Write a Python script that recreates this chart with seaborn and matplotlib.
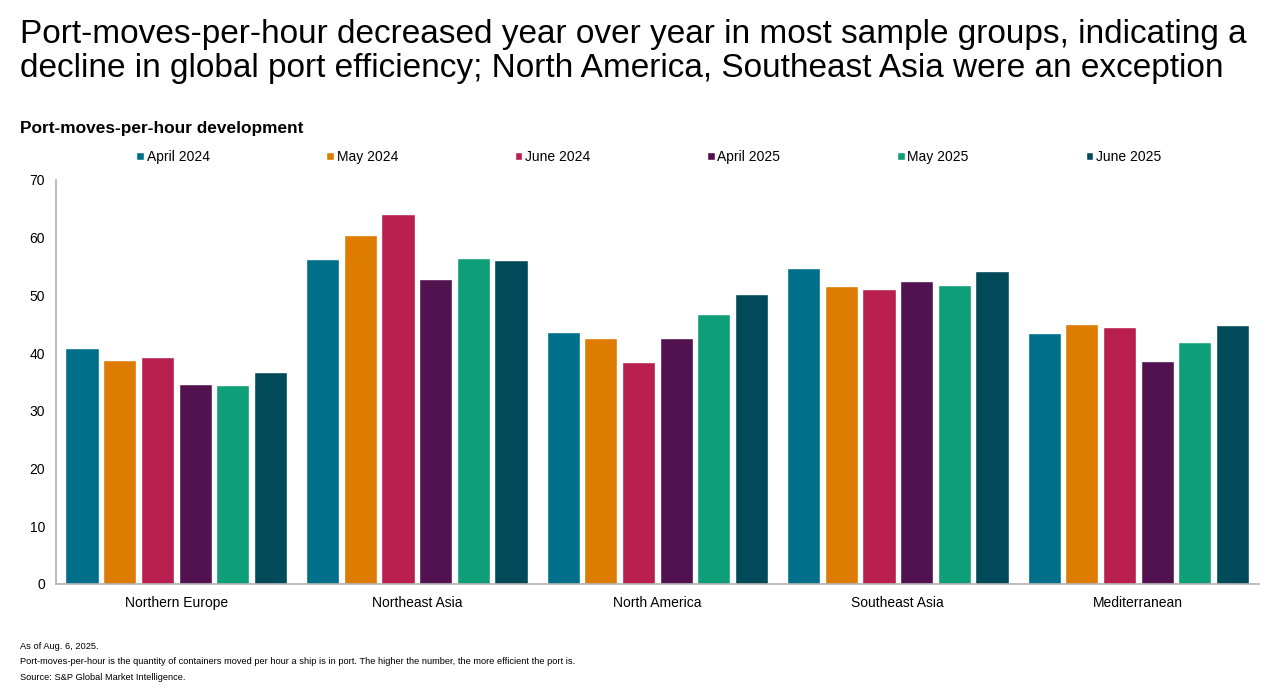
import numpy as np
import pandas as pd
import matplotlib.pyplot as plt
import seaborn as sns

# Chart data
regions = ['Northern Europe', 'Northeast Asia', 'North America', 'Southeast Asia', 'Mediterranean']
months = ['April 2024', 'May 2024', 'June 2024', 'April 2025', 'May 2025', 'June 2025']
april_2024 = [40.9, 56.3, 43.7, 54.7, 43.5]
may_2024 = [38.8, 60.5, 42.7, 51.6, 45.1]
june_2024 = [39.3, 64.1, 38.5, 51.1, 44.5]
april_2025 = [34.7, 52.8, 42.7, 52.5, 38.6]
may_2025 = [34.4, 56.5, 46.7, 51.8, 41.9]
june_2025 = [36.8, 56.1, 50.2, 54.3, 44.9]

colors = ['#006f8a', '#dd7c00', '#b81f4f', '#52124f', '#0e9e78', '#004a5a']

series = [april_2024, may_2024, june_2024, april_2025, may_2025, june_2025]
df = pd.DataFrame([
    {'region': r, 'month': m, 'value': v}
    for m, vals in zip(months, series)
    for r, v in zip(regions, vals)
])

sns.set_theme(style='white')
plt.rcParams['font.family'] = ['Liberation Sans', 'DejaVu Sans']
plt.rcParams['text.color'] = 'black'

fig = plt.figure(figsize=(12.8, 6.89), dpi=100)
ax = fig.add_axes([0.04375, 0.1524, 0.9395, 0.5864])

sns.barplot(data=df, x='region', y='value', hue='month', hue_order=months,
            order=regions, palette=colors, width=0.94, gap=0.12,
            saturation=1, ax=ax)

ax.set_ylim(0, 70)
ax.set_xlim(-0.5, 4.5)
ax.set_yticks(range(0, 71, 10))
ax.set_xlabel('')
ax.set_ylabel('')
ax.tick_params(axis='both', length=0, labelsize=10, colors='black')
ax.tick_params(axis='y', pad=8)
ax.tick_params(axis='x', pad=9)
for side in ['top', 'right']:
    ax.spines[side].set_visible(False)
for side in ['left', 'bottom']:
    ax.spines[side].set_color('#b0b0b0')
    ax.spines[side].set_linewidth(1.2)

# one row legend across the top
handles, labels = ax.get_legend_handles_labels()
ax.get_legend().remove()
fig.legend(handles, labels, ncol=6, frameon=False, fontsize=10, handlelength=0.55,
           handleheight=0.55, handletextpad=0.2, columnspacing=8.4, borderaxespad=0,
           loc='center left', bbox_to_anchor=(0.102, 0.772))

fig.text(0.016, 0.972, 'Port-moves-per-hour decreased year over year in most sample groups, indicating a\n'
         'decline in global port efficiency; North America, Southeast Asia were an exception',
         fontsize=24, va='top', ha='left', linespacing=1.13, color='black')
fig.text(0.016, 0.814, 'Port-moves-per-hour development', fontsize=12.4, fontweight='bold',
         va='center', ha='left', color='black')

notes = ['As of Aug. 6, 2025.',
         'Port-moves-per-hour is the quantity of containers moved per hour a ship is in port. '
         'The higher the number, the more efficient the port is.',
         'Source: S&P Global Market Intelligence.']
for i, n in enumerate(notes):
    fig.text(0.016, 0.061 - i * 0.0218, n, fontsize=6.65, va='center', ha='left', color='black')

fig.savefig('out.png', dpi=100)
